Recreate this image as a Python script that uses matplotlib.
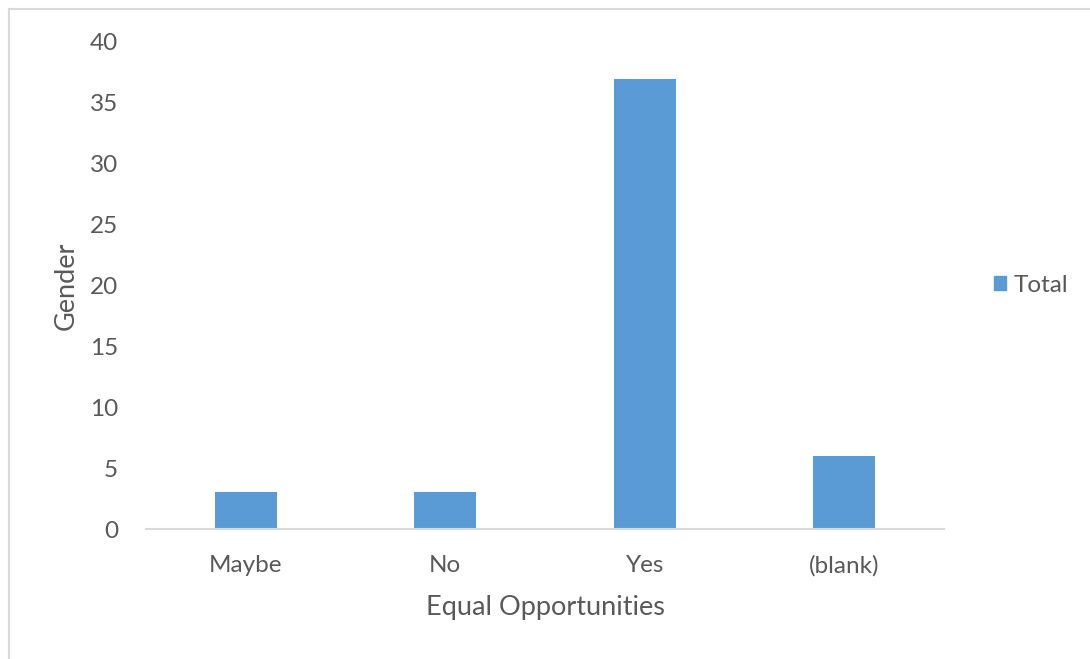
import matplotlib.pyplot as plt
from matplotlib.lines import Line2D
from matplotlib.patches import Patch

# Valores do gráfico
categorias = ['Maybe', 'No', 'Yes', '(blank)']
totais = [3, 3, 37, 6]
y_ticks = [0, 5, 10, 15, 20, 25, 30, 35, 40]

cor_barra = '#5b9bd5'
cor_texto = '#595959'
cor_linha = '#d9d9d9'

plt.rcParams['font.family'] = ['Lato', 'DejaVu Sans']

fig = plt.figure(figsize=(10.9, 6.59), dpi=100)
ax = fig.add_axes([146 / 1090, 1 - 529 / 659, 798 / 1090, 487 / 659])

x = range(len(categorias))
ax.bar(x, totais, width=0.31, color=cor_barra, label='Total')

ax.set_xlim(-0.5, len(categorias) - 0.5)
ax.set_ylim(0, 40)
ax.set_xticks(list(x))
ax.set_xticklabels(categorias)
ax.set_yticks(y_ticks)
ax.tick_params(axis='both', length=0, labelsize=17.5, colors=cor_texto)
ax.tick_params(axis='x', pad=19)
ax.tick_params(axis='y', pad=20)

for lado in ['top', 'right', 'left']:
    ax.spines[lado].set_visible(False)
ax.spines['bottom'].set_color(cor_linha)
ax.spines['bottom'].set_linewidth(1.5)

ax.set_xlabel('Equal Opportunities', fontsize=19.5, color=cor_texto, va='center')
ax.xaxis.set_label_coords(0.5, (529 - 608) / 487)
ax.set_ylabel('Gender', fontsize=19.5, color=cor_texto, va='center')
ax.yaxis.set_label_coords((66 - 146) / 798, 0.5)

# Legenda à direita
ax.legend(handles=[Patch(color=cor_barra, label='Total')], loc='center left',
          bbox_to_anchor=(1.063, 0.5), frameon=False, fontsize=17.5,
          labelcolor=cor_texto, handlelength=0.5, handleheight=0.5,
          handletextpad=0.3, borderpad=0, borderaxespad=0)

# Borda da área do gráfico (esquerda e topo)
fig.add_artist(Line2D([9 / 1090, 9 / 1090], [0, 1 - 9 / 659], color=cor_linha, linewidth=1.5))
fig.add_artist(Line2D([9 / 1090, 1], [1 - 9 / 659, 1 - 9 / 659], color=cor_linha, linewidth=1.5))

fig.savefig('out.png', dpi=100)
